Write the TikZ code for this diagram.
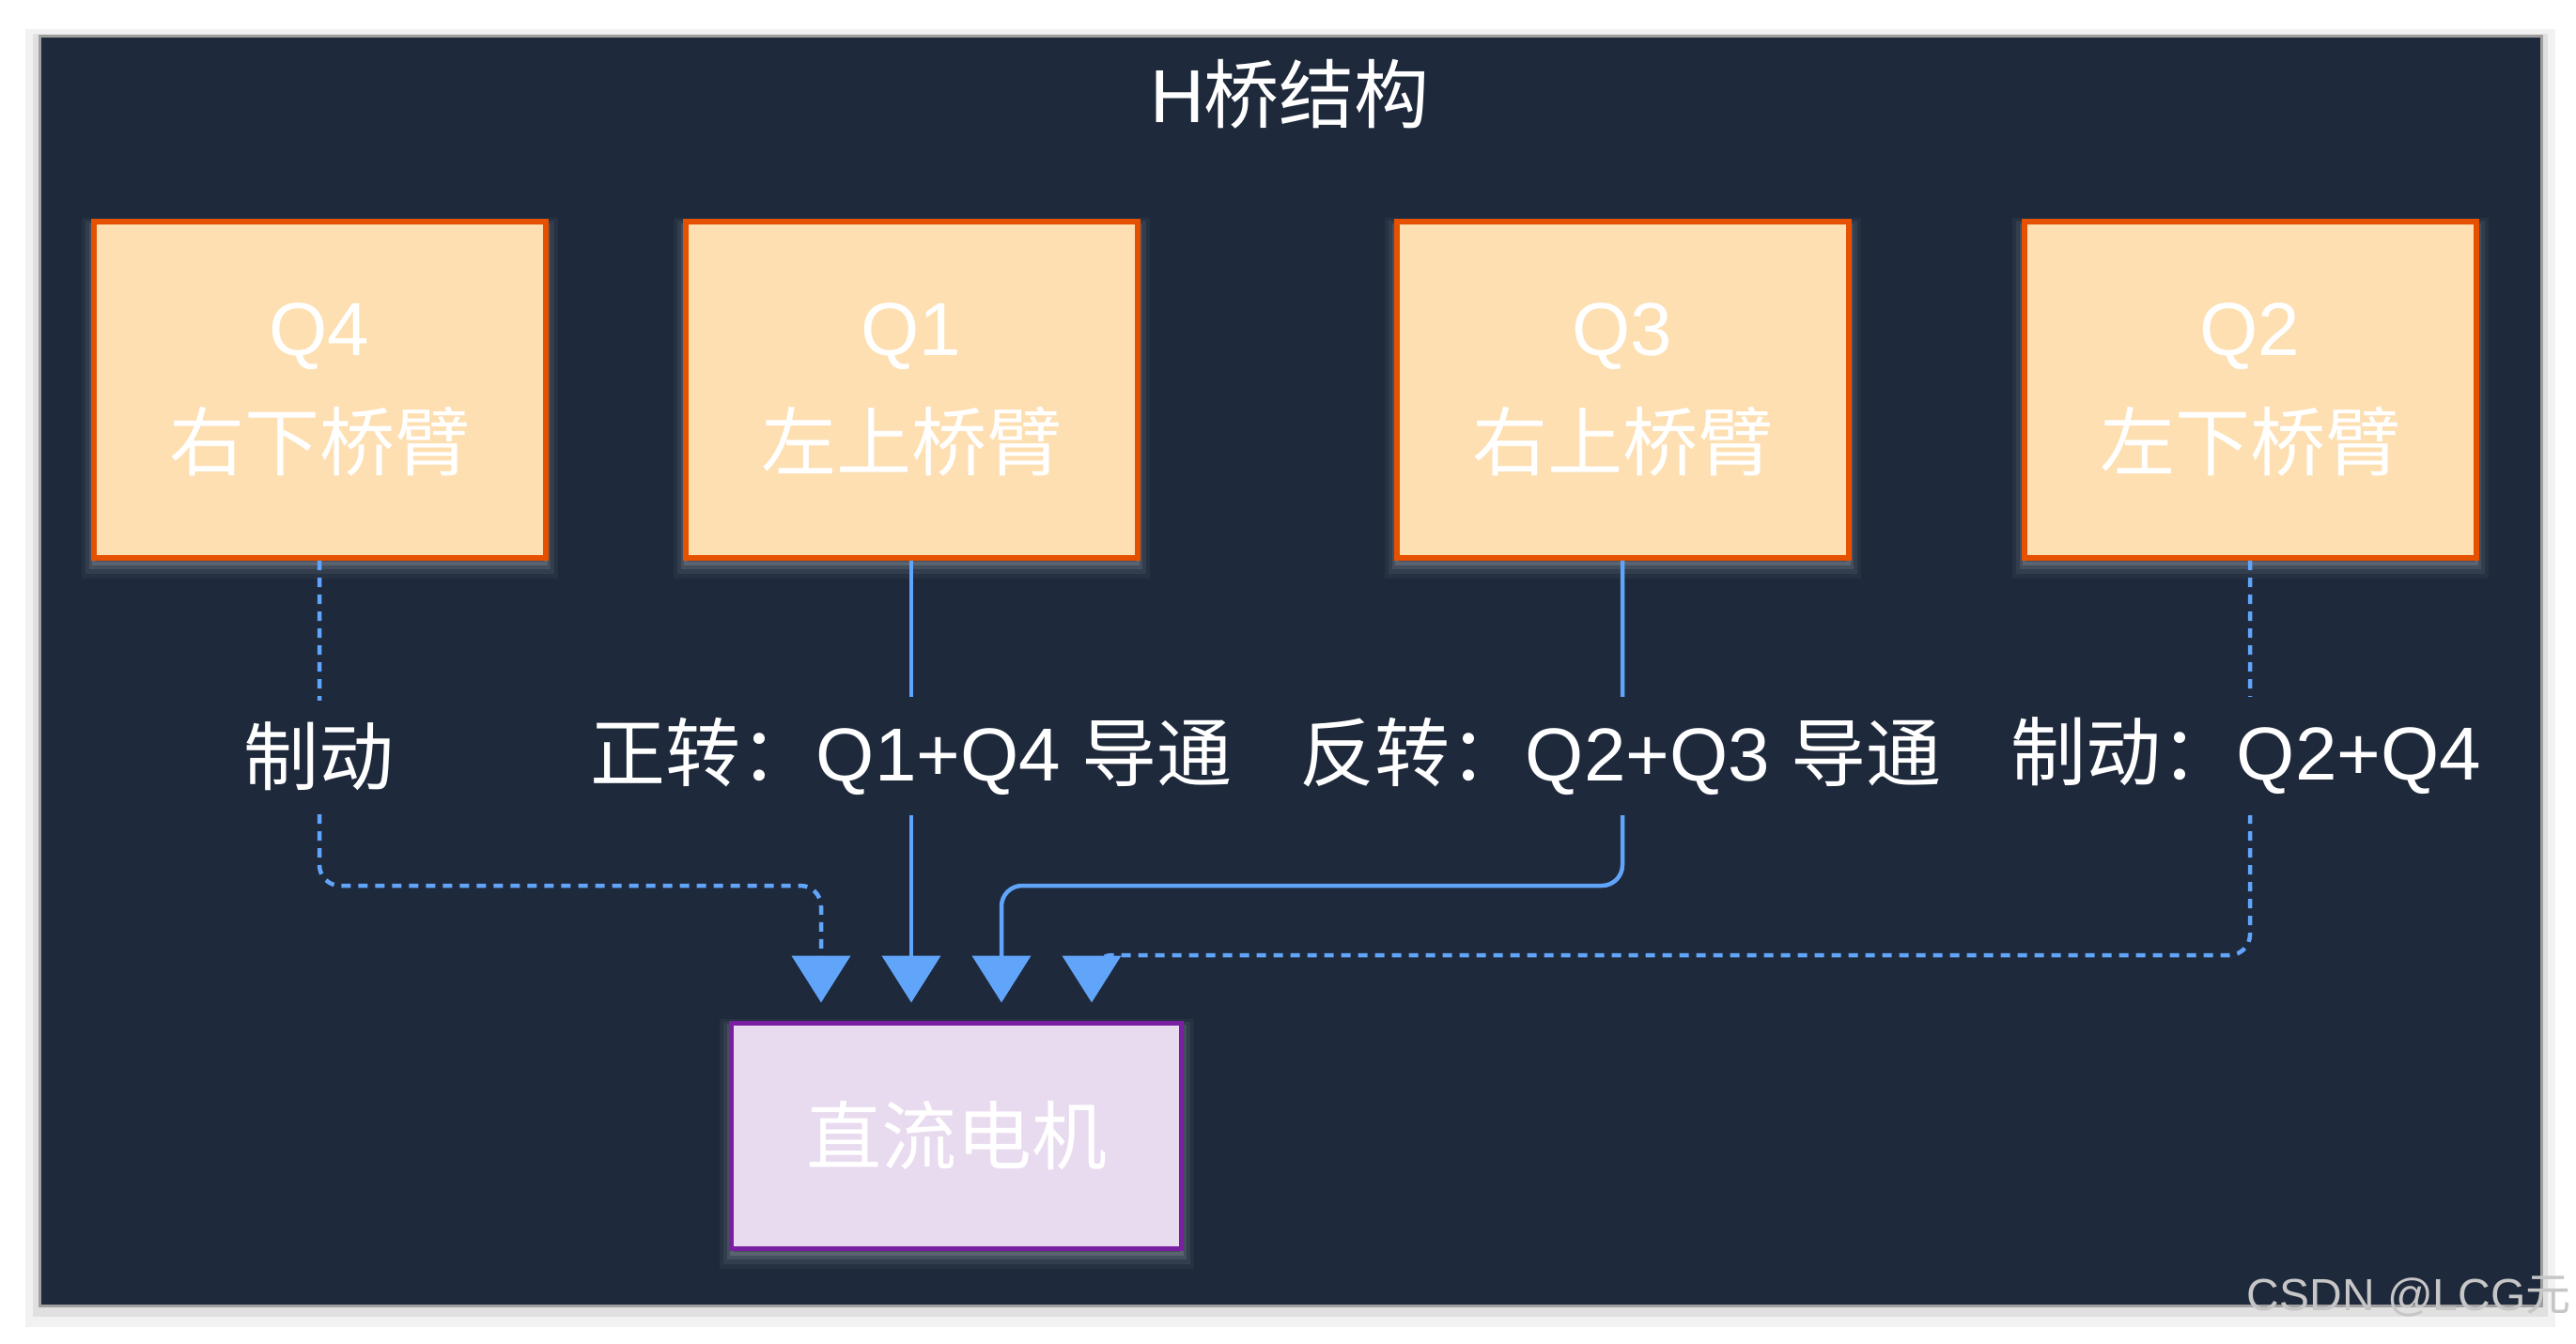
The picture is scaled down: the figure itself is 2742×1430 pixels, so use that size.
\documentclass[tikz,border=0pt]{standalone}
\usepackage{fontspec}
\setmainfont{Liberation Sans}
\newfontfamily\cjk{Noto Sans CJK SC}
\usetikzlibrary{arrows.meta}

\definecolor{bg}{HTML}{1E293B}
\definecolor{armfill}{HTML}{FDDFB1}
\definecolor{armline}{HTML}{E65100}
\definecolor{motorfill}{HTML}{E8DAEF}
\definecolor{motorline}{HTML}{7B1FA2}
\definecolor{wire}{HTML}{60A5FA}

\tikzset{
  glow/.style={
    preaction={draw=white, draw opacity=.04, line width=26pt, transform canvas={yshift=-9pt}},
    preaction={draw=white, draw opacity=.06, line width=18pt, transform canvas={yshift=-8pt}},
    preaction={draw=white, draw opacity=.09, line width=10pt, transform canvas={yshift=-7pt}},
    preaction={draw=white, draw opacity=.12, line width=4pt, transform canvas={yshift=-6pt}}},
  arm/.style={glow, draw=armline, fill=armfill, line width=6pt, minimum width=481pt,
    minimum height=358pt, align=center, font=\fontsize{80}{122}\selectfont},
  motorbox/.style={glow, draw=motorline, fill=motorfill, line width=5pt, minimum width=479pt,
    minimum height=240pt, font=\fontsize{80}{96}\selectfont},
  lbl/.style={fill=bg, inner xsep=8pt, inner ysep=22pt},
  run/.style={draw=wire, line width=4.5pt, rounded corners=22pt, -{Triangle[width=62pt,length=50pt]}},
  brake/.style={run, dash pattern=on 10pt off 8pt}
}

\begin{document}
\begin{tikzpicture}
  [x=1pt, y=-1pt, font=\fontsize{80}{96}\selectfont, text=white]
  \fill [white] (0,0) rectangle (2742,1430);
  \useasboundingbox (0,0) rectangle (2742,1430);
  % frame
  \draw [fill=bg, draw=gray!75, line width=3pt,
    preaction={draw=black, draw opacity=.05, line width=30pt, transform canvas={yshift=-8pt}},
    preaction={draw=black, draw opacity=.07, line width=14pt, transform canvas={yshift=-5pt}}]
    (42,38) rectangle (2705,1390);
  \node [name=title] at (1373,100) {H{\cjk 桥结构}};

  % bridge arms
  \node [name=q4, arm] at (340,415) {Q4\\{\cjk 右下桥臂}};
  \node [name=q1, arm] at (970,415) {Q1\\{\cjk 左上桥臂}};
  \node [name=q3, arm] at (1727,415) {Q3\\{\cjk 右上桥臂}};
  \node [name=q2, arm] at (2395,415) {Q2\\{\cjk 左下桥臂}};

  \node [name=motor, motorbox] at (1018,1209) {\cjk 直流电机};
  \coordinate (in1) at ([xshift=-144pt,yshift=19pt]motor.north);
  \coordinate (in2) at ([xshift=-48pt,yshift=19pt]motor.north);
  \coordinate (in3) at ([xshift=48pt,yshift=19pt]motor.north);
  \coordinate (in4) at ([xshift=144pt,yshift=19pt]motor.north);

  \draw [brake] (q4.south) -- ++(0,346) -| (in1);
  \draw [run] (q1.south) -- (in2);
  \draw [run] (q3.south) -- ++(0,346) -| (in3);
  \draw [brake] (q2.south) -- ++(0,420) -| (in4);

  \node [name=l4, lbl] at (339,805) {\cjk 制动};
  \node [name=l1, lbl] at (970,805) {{\cjk 正转：}Q1+Q4 {\cjk 导通}};
  \node [name=l3, lbl] at (1725,805) {{\cjk 反转：}Q2+Q3 {\cjk 导通}};
  \node [name=l2, lbl] at (2391,805) {{\cjk 制动：}Q2+Q4};

  \node [name=mark, anchor=east, text=gray!45, font=\fontsize{48}{56}\selectfont]
    at (2740,1381) {CSDN @LCG{\cjk 元}};
\end{tikzpicture}
\end{document}
